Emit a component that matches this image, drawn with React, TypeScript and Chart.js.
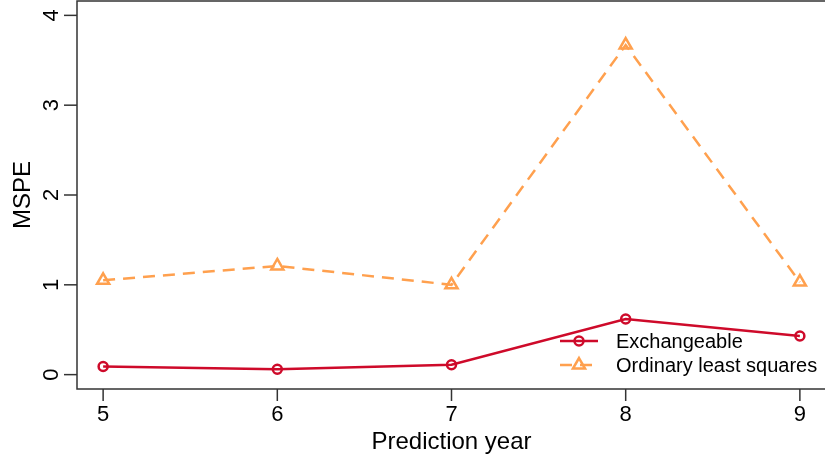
import React, { useEffect, useRef } from "react";
import { Chart, registerables } from "chart.js";

Chart.register(...registerables);

const years = [5, 6, 7, 8, 9];
const exchangeable = [0.09, 0.06, 0.11, 0.62, 0.43];
const ols = [1.05, 1.21, 1.0, 3.67, 1.03];
const xTicks = [5, 6, 7, 8, 9];
const yTicks = [0, 1, 2, 3, 4];
const seriesLabels = ["Exchangeable", "Ordinary least squares"];
const xTitle = "Prediction year";
const yTitle = "MSPE";

const RED = "#CE0A2A";
const ORANGE = "#FFA04E";
const AXIS = "#333333";
const FONT = '"Liberation Sans", Arial, Helvetica, sans-serif';

const axesPlugin = {
  id: "rAxes",
  afterDraw(chart: any) {
    const ctx = chart.ctx as CanvasRenderingContext2D;
    const { left, right, top, bottom } = chart.chartArea;
    const xs = chart.scales.x;
    const ys = chart.scales.y;
    ctx.save();
    ctx.strokeStyle = AXIS;
    ctx.lineWidth = 1.5;
    ctx.strokeRect(left, top, right - left, bottom - top);

    ctx.fillStyle = "#000";
    ctx.font = `22px ${FONT}`;
    // y ticks
    for (const t of yTicks) {
      const py = ys.getPixelForValue(t);
      ctx.beginPath();
      ctx.moveTo(left - 13, py);
      ctx.lineTo(left, py);
      ctx.stroke();
      ctx.save();
      ctx.translate(58, py);
      ctx.rotate(-Math.PI / 2);
      ctx.textAlign = "center";
      ctx.textBaseline = "alphabetic";
      ctx.fillText(String(t), 0, 0);
      ctx.restore();
    }
    // x ticks
    for (const t of xTicks) {
      const px = xs.getPixelForValue(t);
      ctx.beginPath();
      ctx.moveTo(px, bottom);
      ctx.lineTo(px, bottom + 12);
      ctx.stroke();
      ctx.textAlign = "center";
      ctx.textBaseline = "alphabetic";
      ctx.fillText(String(t), px, 421);
    }
    // titles
    ctx.font = `24px ${FONT}`;
    ctx.textAlign = "center";
    ctx.fillText(xTitle, (left + right) / 2, 449);
    ctx.save();
    ctx.translate(30, (top + bottom) / 2);
    ctx.rotate(-Math.PI / 2);
    ctx.fillText(yTitle, 0, 0);
    ctx.restore();

    // legend
    const rows = [341, 365];
    chart.data.datasets.forEach((ds: any, i: number) => {
      const y = rows[i];
      ctx.save();
      ctx.strokeStyle = ds.borderColor;
      ctx.lineWidth = ds.borderWidth;
      ctx.setLineDash(ds.borderDash || []);
      ctx.beginPath();
      ctx.moveTo(560, y);
      ctx.lineTo(598, y);
      ctx.stroke();
      ctx.setLineDash([]);
      ctx.lineWidth = ds.pointBorderWidth;
      ctx.beginPath();
      if (ds.pointStyle === "triangle") {
        const r = ds.pointRadius;
        const cx = 579;
        ctx.moveTo(cx, y - r);
        ctx.lineTo(cx + r * Math.sin((2 * Math.PI) / 3), y + r * 0.5);
        ctx.lineTo(cx - r * Math.sin((2 * Math.PI) / 3), y + r * 0.5);
        ctx.closePath();
      } else {
        ctx.arc(579, y, ds.pointRadius, 0, Math.PI * 2);
      }
      ctx.stroke();
      ctx.restore();
      ctx.fillStyle = "#000";
      ctx.font = `20px ${FONT}`;
      ctx.textAlign = "left";
      ctx.textBaseline = "middle";
      ctx.fillText(ds.label, 616, y + 1);
    });
    ctx.restore();
  },
};

export default function App() {
  const ref = useRef<HTMLCanvasElement | null>(null);
  useEffect(() => {
    if (!ref.current) return;
    const chart = new Chart(ref.current, {
      type: "line",
      data: {
        datasets: [
          {
            label: seriesLabels[0],
            data: years.map((x, i) => ({ x, y: exchangeable[i] })),
            borderColor: RED,
            backgroundColor: "rgba(0,0,0,0)",
            borderWidth: 2.5,
            pointStyle: "circle",
            pointRadius: 4.5,
            pointBorderWidth: 2.5,
            pointBorderColor: RED,
            pointBackgroundColor: "rgba(0,0,0,0)",
            tension: 0,
          },
          {
            label: seriesLabels[1],
            data: years.map((x, i) => ({ x, y: ols[i] })),
            borderColor: ORANGE,
            backgroundColor: "rgba(0,0,0,0)",
            borderWidth: 2.5,
            borderDash: [12, 8],
            pointStyle: "triangle",
            pointRadius: 7,
            pointBorderWidth: 2.5,
            pointBorderColor: ORANGE,
            pointBackgroundColor: "rgba(0,0,0,0)",
            tension: 0,
          },
        ],
      } as any,
      options: {
        responsive: false,
        animation: false,
        events: [],
        layout: { autoPadding: false, padding: { left: 77, top: 1, right: 2, bottom: 70 } },
        plugins: { legend: { display: false }, tooltip: { enabled: false } },
        scales: {
          x: { type: "linear", min: 4.85, max: 9.15, display: false },
          y: { type: "linear", min: -0.16, max: 4.16, display: false },
        },
      } as any,
      plugins: [axesPlugin],
    });
    return () => chart.destroy();
  }, []);
  return (
    <div
      style={{
        position: "fixed",
        left: 0,
        top: 0,
        width: 825,
        height: 459,
        overflow: "hidden",
        background: "#fff",
      }}
    >
      <canvas ref={ref} width={828} height={459} style={{ display: "block" }} />
    </div>
  );
}
